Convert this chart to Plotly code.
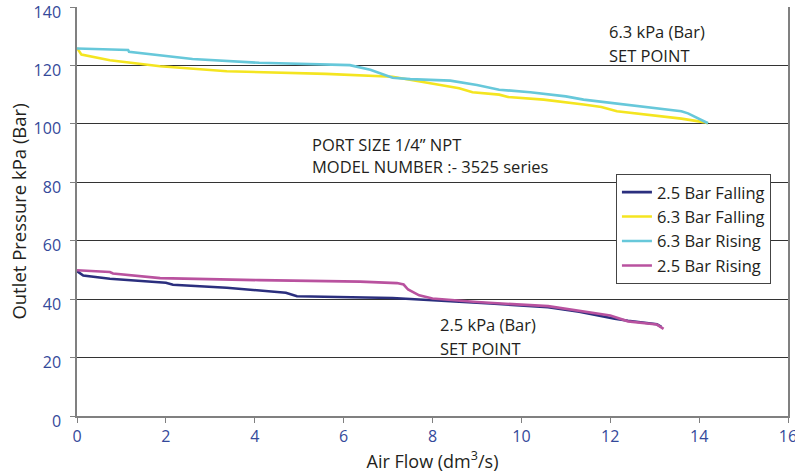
import plotly.graph_objects as go

# ---- data ----
falling_25_x = [0, 0.14, 0.74, 1.87, 2.0, 2.16, 3.37, 4.7, 4.95, 7.1, 8.1, 9.3, 10.6, 11.3, 12.1, 12.4, 13.05, 13.15]
falling_25_y = [49.6, 48.1, 47.0, 45.9, 45.6, 44.9, 43.9, 42.2, 41.0, 40.4, 39.6, 38.5, 37.2, 35.7, 33.3, 32.6, 31.4, 30.5]

falling_63_x = [0, 0.1, 0.74, 1.87, 3.37, 5.6, 7.1, 7.5, 7.9, 8.6, 8.9, 9.5, 9.7, 10.5, 11.4, 11.8, 12.15, 13.6, 14.1, 14.2]
falling_63_y = [126, 123.7, 121.8, 119.7, 118.0, 117.1, 116.1, 115.0, 114.0, 112.2, 110.8, 110.0, 109.2, 108.3, 106.6, 105.8, 104.3, 101.8, 100.6, 100.2]

rising_63_x = [0, 1.15, 1.17, 2.6, 4.1, 5.5, 6.14, 6.6, 7.1, 7.5, 8.4, 9.0, 9.5, 10.2, 11.0, 11.4, 12.5, 13.6, 13.75, 14.2]
rising_63_y = [125.8, 125.3, 124.7, 122.2, 120.9, 120.4, 120.1, 118.5, 115.8, 115.3, 114.8, 113.3, 111.7, 110.8, 109.4, 108.3, 106.3, 104.3, 103.6, 100.2]

rising_25_x = [0, 0.74, 0.81, 1.87, 4.1, 6.37, 7.2, 7.35, 7.45, 7.7, 8.0, 9.0, 10.6, 11.3, 12.0, 12.4, 13.05, 13.2]
rising_25_y = [49.9, 49.3, 48.8, 47.2, 46.5, 46.0, 45.5, 45.0, 43.3, 41.3, 40.2, 39.0, 37.6, 35.9, 34.4, 32.4, 31.3, 29.8]

series_names = ["2.5 Bar Falling", "6.3 Bar Falling", "6.3 Bar Rising", "2.5 Bar Rising"]
series_colors = ["#2B2F7E", "#F4E520", "#67C8DA", "#B9529F"]

x_ticks = [0, 2, 4, 6, 8, 10, 12, 14, 16]
y_ticks = [0, 20, 40, 60, 80, 100, 120, 140]

FONT = "Open Sans"
TEXT = "#231F20"
TICK = "#34499A"

fig = go.Figure()
for name, color, xs, ys in zip(
    series_names, series_colors,
    [falling_25_x, falling_63_x, rising_63_x, rising_25_x],
    [falling_25_y, falling_63_y, rising_63_y, rising_25_y],
):
    fig.add_trace(go.Scatter(x=xs, y=ys, mode="lines", name=name,
                             line=dict(color=color, width=2.6)))

notes = [
    (11.97, 131.6, "6.3 kPa (Bar)"),
    (11.97, 123.4, "SET POINT"),
    (5.29, 92.9, "PORT SIZE 1/4\u201d NPT"),
    (5.29, 85.4, "MODEL NUMBER :- 3525 series"),
    (8.17, 31.3, "2.5 kPa (Bar)"),
    (8.17, 23.1, "SET POINT"),
]
for x, y, t in notes:
    fig.add_annotation(x=x, y=y, xref="x", yref="y", text=t, showarrow=False,
                       xanchor="left", yanchor="middle", xshift=-2,
                       font=dict(family=FONT, size=16.5, color=TEXT))

fig.update_layout(
    width=795, height=476,
    margin=dict(l=77, r=7, t=7, b=59.5, autoexpand=False),
    paper_bgcolor="white", plot_bgcolor="white",
    font=dict(family=FONT, color=TEXT),
    showlegend=True,
    legend=dict(x=0.758, y=0.592, xanchor="left", yanchor="top",
                bgcolor="white", bordercolor="#444444", borderwidth=1,
                font=dict(family=FONT, size=16.5, color=TEXT),
                tracegroupgap=0),
)
fig.update_xaxes(
    range=[0, 16], tickvals=x_ticks, ticktext=[str(v) for v in x_ticks],
    showgrid=False, zeroline=False, automargin=False,
    showline=True, linecolor="#808080", linewidth=1.5, mirror=False,
    ticks="outside", ticklen=5, tickcolor="#808080",
    ticklabeloverflow="allow",
    tickfont=dict(family=FONT, size=16, color=TICK),
    title=dict(text="Air Flow (dm<sup>3</sup>/s)", standoff=6,
               font=dict(family=FONT, size=18, color=TEXT)),
)
fig.update_yaxes(
    range=[0, 140], tickvals=y_ticks, ticktext=[str(v) for v in y_ticks],
    showgrid=True, gridcolor="#333333", gridwidth=1, zeroline=False,
    automargin=False,
    showline=True, linecolor="#808080", linewidth=1.5, mirror=True,
    ticks="outside", ticklen=5, tickcolor="#808080",
    ticklabeloverflow="allow", ticklabelshift=5, ticklabelstandoff=6,
    tickfont=dict(family=FONT, size=16, color=TICK),
    title=dict(text="Outlet Pressure kPa (Bar)", standoff=2,
               font=dict(family=FONT, size=18.5, color=TEXT)),
)

fig.write_html("out.html", config={"displayModeBar": False},
               post_script="document.body.style.margin='0';document.body.style.overflow='hidden';")
